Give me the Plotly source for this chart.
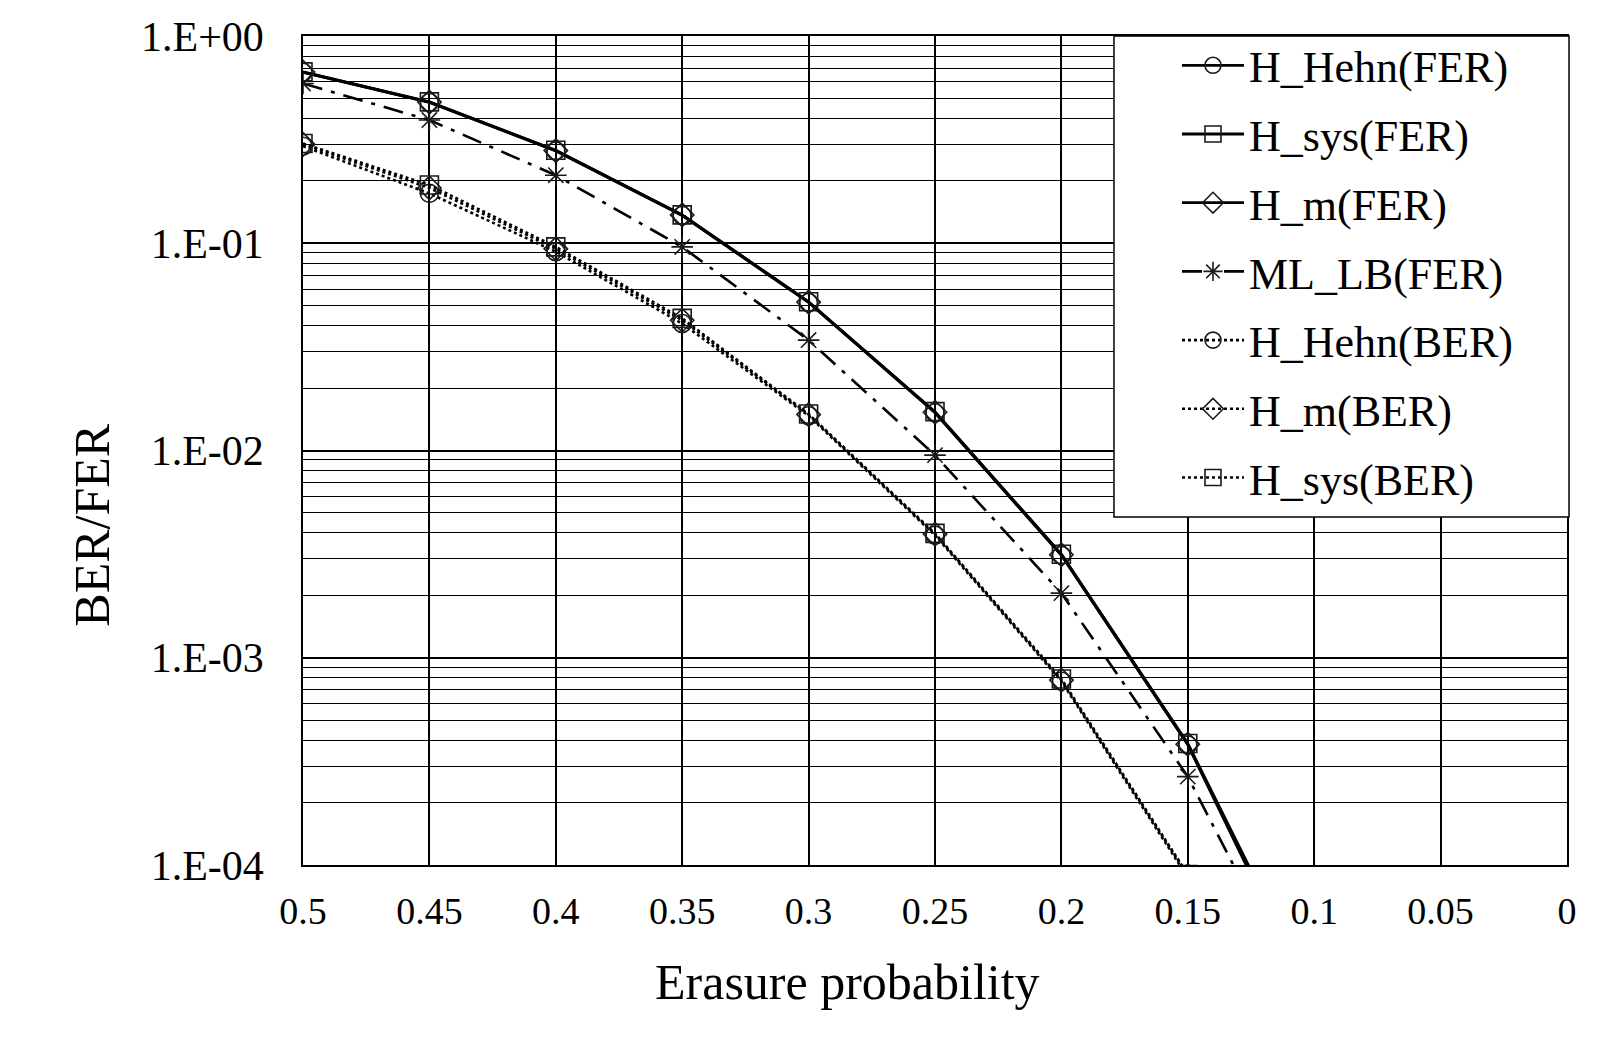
import plotly.graph_objects as go

# ---------------- data ----------------
x_fer = [0.5, 0.45, 0.4, 0.35, 0.3, 0.25, 0.2, 0.15, 0.1]
x_ber = [0.5, 0.45, 0.4, 0.35, 0.3, 0.25, 0.2, 0.15]

H_Hehn_FER = [0.668, 0.478, 0.279, 0.136, 0.0518, 0.0152, 0.00312, 3.80e-4, 2.1e-5]
H_sys_FER = [0.671, 0.481, 0.281, 0.137, 0.0522, 0.0154, 0.00316, 3.86e-4, 2.3e-5]
H_m_FER = [0.670, 0.480, 0.280, 0.137, 0.0520, 0.0153, 0.00314, 3.83e-4, 2.2e-5]
ML_LB_FER = [0.590, 0.393, 0.213, 0.096, 0.0341, 0.0095, 0.00205, 2.67e-4, 1.75e-5]
H_Hehn_BER = [0.294, 0.174, 0.091, 0.041, 0.0147, 0.0039, 7.7e-4, 8.7e-5]
H_m_BER = [0.300, 0.185, 0.094, 0.0425, 0.0149, 0.00395, 7.8e-4, 8.9e-5]
H_sys_BER = [0.303, 0.191, 0.096, 0.0434, 0.0150, 0.00398, 7.9e-4, 9.0e-5]

x_tickvals = [0.5, 0.45, 0.4, 0.35, 0.3, 0.25, 0.2, 0.15, 0.1, 0.05, 0]
x_ticktext = ["0.5", "0.45", "0.4", "0.35", "0.3", "0.25", "0.2", "0.15", "0.1", "0.05", "0"]
y_tickvals = [1, 0.1, 0.01, 0.001, 0.0001]
y_ticktext = ["1.E+00", "1.E-01", "1.E-02", "1.E-03", "1.E-04"]
y_minor = [m * 10.0 ** e for e in range(-4, 0) for m in range(2, 10)]

series = [
    ("H_Hehn(FER)", x_fer, H_Hehn_FER, "solid", 2.8, "circle-open"),
    ("H_sys(FER)", x_fer, H_sys_FER, "solid", 2.8, "square-open"),
    ("H_m(FER)", x_fer, H_m_FER, "solid", 2.8, "diamond-open"),
    ("ML_LB(FER)", x_fer, ML_LB_FER, "20px,9px,4px,9px", 2.6, "asterisk-open"),
    ("H_Hehn(BER)", x_ber, H_Hehn_BER, "dot", 2.6, "circle-open"),
    ("H_m(BER)", x_ber, H_m_BER, "dot", 2.6, "diamond-open"),
    ("H_sys(BER)", x_ber, H_sys_BER, "dot", 2.6, "square-open"),
]

FONT = "Liberation Serif, Times New Roman, serif"

fig = go.Figure()
for i, (name, xs, ys, dash, lw, sym) in enumerate(series):
    fig.add_trace(go.Scatter(
        x=xs, y=ys, name=name, mode="lines+markers",
        legendgroup=f"g{i}",
        line=dict(color="black", width=lw, dash=dash),
        marker=dict(symbol=sym, size=18, color="#1a1a1a", line=dict(width=1.6, color="#1a1a1a")),
    ))

fig.update_layout(
    width=1605, height=1047,
    margin=dict(l=303, r=38, t=36, b=182),
    paper_bgcolor="white", plot_bgcolor="white",
    font=dict(family=FONT, color="black"),
    showlegend=True,
    legend=dict(
        x=0.6416, y=1.007, xanchor="left", yanchor="top",
        bgcolor="rgba(0,0,0,0)", borderwidth=0,
        font=dict(family=FONT, size=44, color="black"),
        itemwidth=62, indentation=63,
        traceorder="grouped", tracegroupgap=8.5,
    ),
    shapes=[dict(
        type="rect", xref="paper", yref="paper",
        x0=0.6416, x1=1.0016, y0=0.4198, y1=1.0,
        line=dict(color="black", width=1.5), fillcolor="white", layer="above",
    )],
    annotations=[
        dict(text="Erasure probability", xref="paper", yref="paper",
             x=0.431, y=-0.141, xanchor="center", yanchor="middle",
             showarrow=False, font=dict(family=FONT, size=50, color="black")),
        dict(text="BER/FER", xref="paper", yref="paper",
             x=-0.1665, y=0.41, xanchor="center", yanchor="middle", textangle=-90,
             showarrow=False, font=dict(family=FONT, size=50, color="black")),
    ],
)

fig.update_xaxes(
    range=[0.5, 0], tickvals=x_tickvals, ticktext=x_ticktext,
    showgrid=True, gridcolor="black", gridwidth=1.5,
    showline=True, linecolor="black", linewidth=1.5, mirror=True,
    ticks="", ticklabelstandoff=12,
    tickfont=dict(family=FONT, size=38, color="black"), zeroline=False,
)
fig.update_yaxes(
    type="log", range=[-4, 0], tickvals=y_tickvals, ticktext=y_ticktext,
    showgrid=True, gridcolor="black", gridwidth=1.5,
    minor=dict(tickvals=y_minor, showgrid=True, gridcolor="black", gridwidth=1.2, ticks=""),
    showline=True, linecolor="black", linewidth=1.5, mirror=True,
    ticks="", ticklabelstandoff=29,
    tickfont=dict(family=FONT, size=42, color="black"), zeroline=False,
)

fig.write_html("out.html")
